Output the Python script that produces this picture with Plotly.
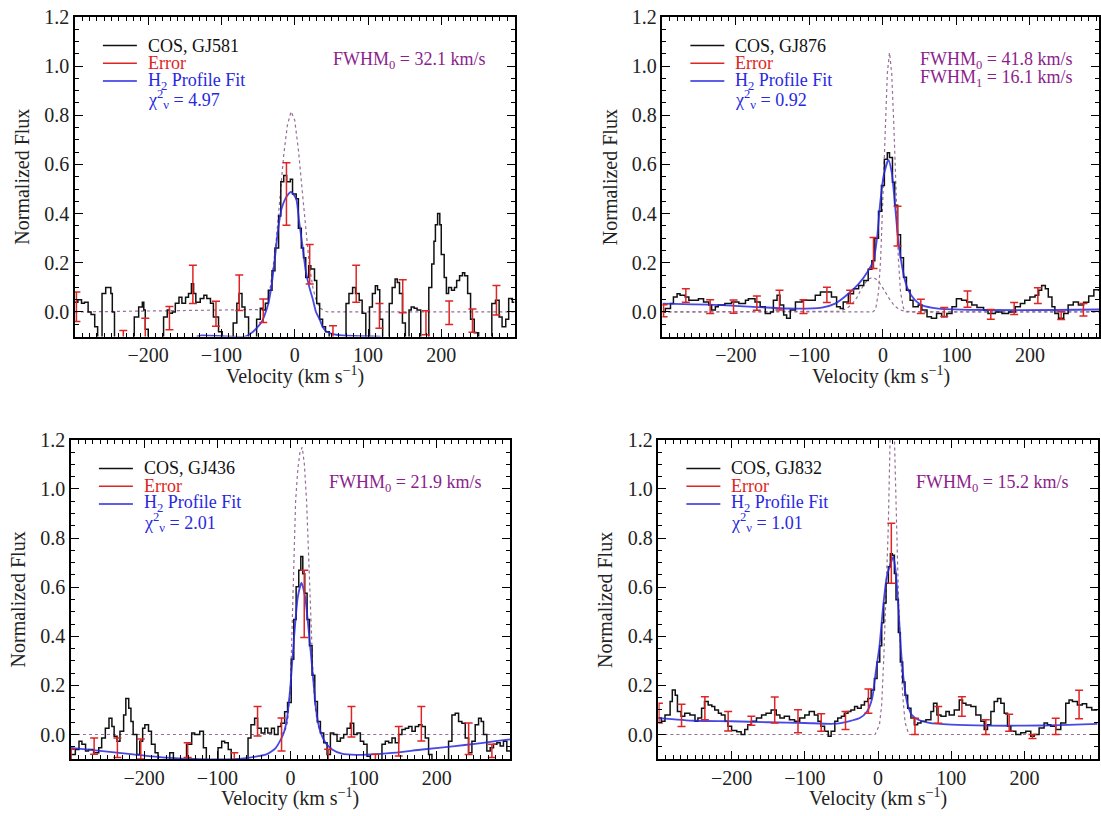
import plotly.graph_objects as go

# ---------------- data ----------------
# GJ581
VEL_GJ581 = [-300, -296, -291, -287, -282, -278, -273, -269, -263, -258, -251, -249, -246, -219, -213, -208, -206, -204, -200,
             -179, -174, -171, -167, -163, -158, -154, -149, -145, -141, -138, -135, -129, -124, -120, -115, -111, -104, -99,
             -84, -79, -76, -72, -68, -63, -52, -47, -44, -40, -36, -31, -27, -22, -19, -15, -11, -6, -3, 2, 5, 9, 12, 15,
             19, 22, 27, 30, 34, 38, 42, 47, 70, 74, 79, 83, 88, 92, 97, 102, 106, 110, 113, 116, 120, 129, 133, 137, 140,
             143, 147, 151, 156, 159, 163, 167, 172, 183, 187, 190, 192, 195, 198, 200, 204, 207, 210, 214, 218, 221, 225,
             229, 232, 236, 240, 245, 251, 269, 274, 279, 283, 288, 292, 297, 300]
FLUX_GJ581 = [0.04, 0.05, 0.035, 0.04, 0.0, -0.01, -0.06, -0.12, 0.075, 0.10, 0.075, 0.0, -0.12, -0.02, 0.02, 0.04, 0.008, -0.07, -0.12,
              -0.02, 0.008, -0.005, 0.0, 0.035, 0.06, 0.035, 0.06, 0.075, 0.115, 0.075, 0.04, 0.055, 0.068, 0.055, 0.035, -0.02, -0.08, -0.12,
              -0.045, 0.035, 0.075, 0.02, -0.02, -0.12, -0.03, 0.015, 0.008, 0.035, 0.088, 0.168, 0.26, 0.39, 0.53, 0.555, 0.53, 0.54, 0.48, 0.46, 0.34, 0.26, 0.22, 0.14,
              0.188, 0.175, 0.128, 0.034, -0.03, -0.06, -0.08, -0.12, 0.034, 0.075, 0.10, 0.075, 0.048, -0.005, -0.12, 0.02, 0.075, 0.107, 0.09, -0.03, -0.12, 0.034, 0.10, 0.134, 0.12,
              0.075, -0.045, -0.12, 0.008, 0.02, 0.015, 0.008, -0.12, 0.10, 0.195, 0.288, 0.355, 0.40, 0.355, 0.234, 0.14, 0.075, 0.10, 0.088, 0.10, 0.128, 0.147,
              0.16, 0.147, 0.075, -0.03, -0.085, -0.12, 0.034, 0.048, -0.02, -0.06, -0.03, 0.055, 0.04, 0.04]
ERRV_GJ581 = [-298, -234, -204, -171, -139, -107.5, -75.7, -43, -11.3, 20.4, 52.2, 83.9, 115.6, 147.4, 179.1, 210.8, 242.6, 275.3]
ERRY_GJ581 = [0.021, -0.11, -0.08, -0.025, 0.112, -0.007, 0.078, 0.005, 0.48, 0.194, -0.1, 0.115, -0.016, 0.064, -0.044, -0.003, -0.035, 0.048]
ERRS_GJ581 = [0.06, 0.035, 0.054, 0.047, 0.078, 0.051, 0.072, 0.048, 0.127, 0.08, 0.044, 0.075, 0.05, 0.067, 0.049, 0.048, 0.047, 0.06]
FITV_GJ581 = [-134, -127, -68, -59, -52, -45, -41, -36, -32, -27, -23, -18, -11, -5, 2, 6, 11, 15, 20, 25, 29, 34, 38, 43, 52, 65, 117]
FITY_GJ581 = [-0.1, -0.095, -0.1, -0.085, -0.066, -0.04, -0.012, 0.034, 0.1, 0.22, 0.33, 0.42, 0.47, 0.488, 0.46, 0.368, 0.26, 0.168, 0.1, 0.048, 0.0, -0.03, -0.06, -0.079, -0.09, -0.095, -0.1]
COMPV_GJ581 = [-300, -45, -40, -35, -30, -25, -20, -15, -10, -5, 0, 5, 10, 15, 20, 25, 30, 35, 40, 45, 300]
COMPY_GJ581 = [0, 0.01, 0.03, 0.07, 0.17, 0.3, 0.47, 0.64, 0.76, 0.815, 0.78, 0.66, 0.5, 0.33, 0.19, 0.095, 0.04, 0.015, 0.005, 0, 0]

# GJ876
VEL_GJ876 = [-300, -296, -289, -285, -280, -276, -269, -264, -258, -251, -244, -237, -233, -228, -224, -215, -206, -196, -187, -183,
             -174, -167, -160, -153, -149, -144, -140, -135, -131, -126, -119, -110, -101, -92, -85, -76, -70, -63, -58, -54,
             -47, -40, -33, -26, -20, -15, -11, -6, -2, 2, 6, 9, 13, 16, 20, 24, 28, 32, 37, 41, 48, 53, 60, 66, 73, 80, 87,
             94, 100, 107, 114, 121, 128, 137, 143, 153, 162, 171, 180, 187, 193, 200, 207, 212, 216, 221, 225, 230, 234, 239,
             246, 252, 259, 266, 273, 280, 287, 294]
FLUX_GJ876 = [0.0, 0.014, 0.034, 0.061, 0.074, 0.068, 0.061, 0.048, 0.048, 0.054, 0.041, 0.028, 0.008, 0.021, 0.028, 0.034, 0.041, 0.034, 0.048, 0.054,
              0.041, 0.021, -0.006, 0.0, 0.048, 0.068, 0.028, -0.012, -0.026, 0.008, 0.041, 0.048, 0.048, 0.068, 0.081, 0.081, 0.061, 0.021, 0.014, 0.041,
              0.074, 0.094, 0.108, 0.128, 0.174, 0.208, 0.30, 0.41, 0.514, 0.621, 0.648, 0.628, 0.528, 0.434, 0.314, 0.221, 0.141, 0.088, 0.048, 0.021, 0.028, 0.008, -0.019, -0.026, -0.006, -0.019, -0.006,
              0.021, 0.054, 0.048, 0.041, 0.028, 0.018, 0.008, -0.006, 0.0, -0.006, 0.0, 0.021, 0.034, 0.048, 0.061, 0.068, 0.088, 0.108, 0.094, 0.061, 0.021, -0.006, -0.026,
              -0.006, 0.028, 0.041, 0.028, 0.04, 0.065, 0.09, 0.085]
ERRV_GJ876 = [-298.4, -268.1, -235.0, -203.2, -171.5, -140.7, -108.0, -76.2, -44.5, -12.8, 19.9, 51.6, 83.4, 115.1, 146.8, 178.6, 210.8, 242.5, 272.8]
ERRY_GJ876 = [0.005, 0.067, 0.022, 0.022, 0.036, 0.048, 0.022, 0.07, 0.061, 0.24, 0.349, 0.023, 0.0, 0.052, -0.01, 0.014, 0.066, -0.015, 0.009]
ERRS_GJ876 = [0.024, 0.027, 0.028, 0.027, 0.029, 0.04, 0.028, 0.031, 0.027, 0.063, 0.081, 0.029, 0.018, 0.033, 0.02, 0.024, 0.032, 0.016, 0.025]
FITV_GJ876 = [-300, -219, -128, -83, -65, -47, -33, -20, -13, -8, -4, 1, 7.5, 12, 16.5, 21, 25.6, 30, 34.7, 43.7, 52.8, 75.5, 143.5, 234.3, 294]
FITY_GJ876 = [0.034, 0.028, 0.014, 0.018, 0.034, 0.074, 0.114, 0.168, 0.208, 0.3, 0.434, 0.554, 0.618, 0.568, 0.434, 0.288, 0.194, 0.128, 0.088, 0.048, 0.028, 0.014, 0.008, 0.008, 0.01]
COMP0V_GJ876 = [-300, -70, -60, -50, -45, -40, -35, -30, -25, -20, -15, -10, -5, 0, 5, 10, 15, 20, 25, 30, 40, 294]
COMP0Y_GJ876 = [0, 0, 0.003, 0.013, 0.024, 0.04, 0.06, 0.09, 0.115, 0.133, 0.14, 0.135, 0.12, 0.097, 0.072, 0.048, 0.028, 0.015, 0.007, 0.003, 0, 0]
COMP1V_GJ876 = [-300, -14, -10, -6, -3, 0, 3, 6, 9, 12, 15, 18, 21, 24, 28, 32, 294]
COMP1Y_GJ876 = [0, 0, 0.01, 0.08, 0.22, 0.45, 0.75, 0.97, 1.055, 0.97, 0.75, 0.45, 0.22, 0.08, 0.015, 0, 0]

# GJ436
VEL_GJ436 = [-300, -294, -289, -285, -280, -276, -269, -262, -258, -253, -248, -244, -241, -237, -233, -228, -225, -221, -218, -215,
             -210, -206, -202, -199, -194, -190, -185, -181, -165, -160, -142, -135, -131, -124, -119, -115, -99, -94, -90, -85,
             -81, -58, -54, -49, -45, -40, -35, -31, -26, -22, -17, -13, -8, -4, 1, 4.5, 7.7, 11.3, 14.1, 16.8, 19.5, 22.7,
             25.9, 29.5, 33.2, 36.8, 40.9, 45.4, 50, 54.5, 59.1, 63.6, 68.2, 72.7, 77.3, 81.8, 86.4, 90.9, 95.5, 100, 104.6,
             109.1, 125, 129.6, 134.1, 138.7, 143.2, 147.8, 152.3, 156.9, 161.4, 166, 170.5, 175.1, 179.6, 184.2, 188.7, 193.3,
             216, 220.6, 225.1, 229.7, 234.2, 238.8, 243.3, 247.9, 252.4, 257, 260.6, 263.8, 268.3, 272.9, 277.4, 282, 286.5,
             291, 295.6, 300]
FLUX_GJ436 = [-0.081, -0.061, -0.027, -0.04, -0.067, -0.061, -0.074, -0.054, -0.014, 0.026, 0.066, 0.033, -0.007, -0.027, 0.013, 0.08, 0.147, 0.107, 0.053, 0.0,
              -0.081, -0.027, 0.026, 0.04, 0.013, -0.04, -0.074, -0.12, -0.074, -0.12, -0.04, 0.006, 0.0, 0.013, -0.054, -0.12, -0.054, -0.027, -0.034, -0.061,
              -0.12, -0.014, 0.04, 0.066, 0.026, 0.006, 0.026, 0.006, 0.026, 0.0, 0.033, 0.046, 0.093, 0.13, 0.307, 0.468, 0.602, 0.669, 0.725, 0.655, 0.575, 0.468,
              0.361, 0.241, 0.134, 0.053, 0.006, -0.034, -0.081, 0.006, 0.0, -0.027, -0.014, 0.0, 0.026, 0.046, 0.0, 0.006, -0.027, -0.04, -0.088,
              -0.12, -0.04, -0.027, -0.034, -0.014, -0.034, 0.0, 0.02, 0.026, 0.033, 0.013, 0.033, 0.04, 0.033, -0.014, -0.081, -0.12,
              -0.027, 0.08, 0.087, 0.053, 0.046, -0.014, -0.074, -0.027, 0.04, 0.066, 0.053, 0.0, -0.067, -0.054, -0.04, -0.034, -0.047,
              -0.027, -0.067, -0.067]
ERRV_GJ436 = [-299.7, -268.3, -236.5, -204.6, -140.5, -76.8, -45.0, -12.2, 18.8, 51.5, 83.3, 116.0, 147.9, 178.8, 243.4, 275.2]
ERRY_GJ436 = [-0.1, -0.047, -0.054, -0.059, -0.064, -0.1, 0.054, 0.0, 0.532, -0.1, 0.052, -0.1, -0.027, 0.044, -0.017, -0.067]
ERRS_GJ436 = [0.04, 0.033, 0.04, 0.041, 0.03, 0.026, 0.06, 0.067, 0.137, 0.04, 0.062, 0.02, 0.06, 0.07, 0.064, 0.027]
FITV_GJ436 = [-300, -260, -215, -169, -124, -78, -56, -33, -20, -10, -5, 0, 5, 10, 15, 20, 25, 30, 35, 40, 48, 57, 70, 90, 110, 135, 180, 225, 252, 280, 300]
FITY_GJ436 = [-0.054, -0.067, -0.081, -0.094, -0.1, -0.1, -0.094, -0.081, -0.054, 0.0, 0.06, 0.2, 0.4, 0.56, 0.618, 0.56, 0.42, 0.26, 0.1, 0.02, -0.034, -0.061, -0.078, -0.083, -0.081, -0.076, -0.061, -0.047, -0.038, -0.027, -0.02]
COMPV_GJ436 = [-300, -15, -8, -4, 0, 2, 4, 7, 10, 13, 16, 19, 22, 25, 27, 30, 33, 37, 42, 48, 300]
COMPY_GJ436 = [0, 0, 0.01, 0.05, 0.2, 0.45, 0.7, 0.95, 1.08, 1.15, 1.17, 1.1, 0.95, 0.75, 0.55, 0.3, 0.13, 0.04, 0.005, 0, 0]

# GJ832
VEL_GJ832 = [-300, -296, -291, -284, -281, -277, -274, -269, -264, -257, -250, -246, -241, -237, -232, -227, -223, -218, -214, -209,
             -205, -200, -193, -187, -182, -178, -173, -166, -159, -153, -146, -139, -134, -128, -121, -114, -107, -100, -94, -87,
             -82, -78, -73, -68, -64, -59, -55, -50, -46, -41, -37, -32, -28, -23, -18.5, -14, -9.4, -4.9, -1.3, 2.4, 5.1, 7.8,
             11, 14.2, 16.9, 19.6, 22.4, 24.6, 27.8, 30.5, 33.7, 36.9, 40.5, 45, 49.6, 54.1, 58.7, 65.5, 72.3, 75.9, 80.5, 86,
             92.8, 97.3, 104.2, 111, 115.5, 120.1, 126.9, 133.7, 140.5, 145.1, 149.6, 154.2, 158.7, 163.3, 167.8, 172.4, 176.9,
             181.5, 188.3, 195.1, 201.9, 208.7, 213.3, 220.1, 226.9, 231.5, 236, 242.8, 249.7, 256.5, 261, 265.6, 272.4, 279,
             285, 292, 300]
FLUX_GJ832 = [0.067, 0.054, 0.08, 0.134, 0.181, 0.16, 0.094, 0.074, 0.087, 0.08, 0.054, 0.067, 0.107, 0.134, 0.12, 0.114, 0.1, 0.087, 0.08, 0.054,
              0.034, 0.016, 0.011, 0.0, 0.02, 0.04, 0.054, 0.067, 0.08, 0.087, 0.1, 0.08, 0.067, 0.074, 0.06, 0.054, 0.067, 0.08, 0.094, 0.08,
              0.054, 0.034, 0.013, -0.007, 0.013, 0.054, 0.067, 0.074, 0.087, 0.094, 0.1, 0.114, 0.107, 0.12, 0.134, 0.147, 0.181, 0.228, 0.295, 0.361, 0.455, 0.536,
              0.616, 0.683, 0.736, 0.73, 0.656, 0.549, 0.415, 0.295, 0.214, 0.16, 0.107, 0.067, 0.04, 0.047, 0.054, 0.06, 0.094, 0.127, 0.08, 0.074,
              0.094, 0.08, 0.1, 0.141, 0.127, 0.12, 0.114, 0.08, 0.054, 0.02, 0.04, 0.094, 0.134, 0.147, 0.127, 0.087, 0.034,
              0.013, 0.0, 0.007, 0.013, -0.007, 0.0, 0.027, 0.047, 0.04, 0.034, 0.02, 0.047, 0.127, 0.141, 0.134, 0.12, 0.125,
              0.11, 0.1, 0.1]
ERRV_GJ832 = [-299.3, -268.4, -236.5, -204.7, -173, -141.1, -109.3, -77.6, -44.4, -13.1, 18.2, 50.5, 82.3, 114.6, 147.3, 179.2, 211.0, 242.8, 274.7]
ERRY_GJ832 = [0.087, 0.078, 0.107, 0.054, 0.056, 0.1, 0.054, 0.049, 0.057, 0.136, 0.738, 0.033, 0.08, 0.114, 0.03, 0.048, -0.008, 0.033, 0.122]
ERRS_GJ832 = [0.04, 0.045, 0.047, 0.04, 0.018, 0.053, 0.047, 0.036, 0.037, 0.049, 0.122, 0.033, 0.034, 0.04, 0.03, 0.035, 0.008, 0.033, 0.058]
FITV_GJ832 = [-300, -250, -200, -150, -100, -60, -40, -25, -15, -8, -3, 2, 7, 12, 18, 21, 24, 28, 32, 36, 40, 46, 55, 70, 100, 150, 200, 250, 300]
FITY_GJ832 = [0.067, 0.056, 0.054, 0.05, 0.047, 0.044, 0.054, 0.067, 0.094, 0.147, 0.255, 0.36, 0.52, 0.643, 0.703, 0.723, 0.67, 0.51, 0.32, 0.2, 0.127, 0.08, 0.06, 0.047, 0.04, 0.036, 0.036, 0.038, 0.043]
COMPV_GJ832 = [-300, -4, 2, 5, 8, 11, 14, 16.5, 19.5, 22.5, 25, 28, 31, 34, 37, 42, 300]
COMPY_GJ832 = [0, 0, 0.04, 0.12, 0.32, 0.58, 0.84, 1.2, 1.35, 1.2, 0.84, 0.55, 0.32, 0.15, 0.05, 0.0, 0]

STARS = ["GJ581", "GJ876", "GJ436", "GJ832"]
CHI2 = ["4.97", "0.92", "2.01", "1.01"]
FWHM_TEXT = [["FWHM<sub>0</sub> = 32.1 km/s"],
             ["FWHM<sub>0</sub> = 41.8 km/s", "FWHM<sub>1</sub> = 16.1 km/s"],
             ["FWHM<sub>0</sub> = 21.9 km/s"],
             ["FWHM<sub>0</sub> = 15.2 km/s"]]
X_TICKS = [-200, -100, 0, 100, 200]
Y_TICKS = [0.0, 0.2, 0.4, 0.6, 0.8, 1.0, 1.2]

# ---------------- styling / layout ----------------
W, H = 1101, 816
SERIF = "Liberation Serif"
BLACK = "#111111"
RED = "rgb(222,36,36)"
BLUE = "rgb(40,40,225)"
PURPLE = "rgb(140,30,140)"
DOT = "rgb(150,110,150)"


def px(x):
    return x / W


def py(y):
    return 1 - y / H


panels = [
    dict(L=75, R=515, T=6, B=330, xr=[-300, 300],
         vel=VEL_GJ581, flux=FLUX_GJ581, ev=ERRV_GJ581, ey=ERRY_GJ581, es=ERRS_GJ581,
         fv=FITV_GJ581, fy=FITY_GJ581, comps=[(COMPV_GJ581, COMPY_GJ581)]),
    dict(L=663, R=1100, T=6, B=330, xr=[-300, 294],
         vel=VEL_GJ876, flux=FLUX_GJ876, ev=ERRV_GJ876, ey=ERRY_GJ876, es=ERRS_GJ876,
         fv=FITV_GJ876, fy=FITY_GJ876, comps=[(COMP0V_GJ876, COMP0Y_GJ876), (COMP1V_GJ876, COMP1Y_GJ876)]),
    dict(L=71, R=510.5, T=434.7, B=758.3, xr=[-300, 300],
         vel=VEL_GJ436, flux=FLUX_GJ436, ev=ERRV_GJ436, ey=ERRY_GJ436, es=ERRS_GJ436,
         fv=FITV_GJ436, fy=FITY_GJ436, comps=[(COMPV_GJ436, COMPY_GJ436)]),
    dict(L=659, R=1098.6, T=434.7, B=758.3, xr=[-300, 300],
         vel=VEL_GJ832, flux=FLUX_GJ832, ev=ERRV_GJ832, ey=ERRY_GJ832, es=ERRS_GJ832,
         fv=FITV_GJ832, fy=FITY_GJ832, comps=[(COMPV_GJ832, COMPY_GJ832)]),
]

fig = go.Figure()
layout = dict(width=W, height=H, margin=dict(l=0, r=0, t=0, b=0),
              paper_bgcolor="white", plot_bgcolor="white", showlegend=False,
              font=dict(family=SERIF, size=20, color="#222222"))
annotations = []
shapes = []

for i, p in enumerate(panels):
    n = "" if i == 0 else str(i + 1)
    xa, ya = "x" + n, "y" + n
    for cv, cy in p["comps"]:
        fig.add_trace(go.Scatter(x=cv, y=cy, mode="lines", xaxis=xa, yaxis=ya,
                                 line=dict(color=DOT, width=1.2, dash="dot"), hoverinfo="skip"))
    fig.add_trace(go.Scatter(x=p["vel"], y=p["flux"], mode="lines", xaxis=xa, yaxis=ya,
                             line=dict(color=BLACK, width=1.5, shape="hv"), hoverinfo="skip"))
    fig.add_trace(go.Scatter(x=p["fv"], y=p["fy"], mode="lines", xaxis=xa, yaxis=ya,
                             line=dict(color=BLUE, width=1.8, shape="spline", smoothing=0.6), opacity=0.85,
                             hoverinfo="skip"))
    fig.add_trace(go.Scatter(x=p["ev"], y=p["ey"], mode="markers", xaxis=xa, yaxis=ya,
                             marker=dict(size=1, color="rgba(0,0,0,0)"),
                             error_y=dict(type="data", array=p["es"], symmetric=True, color=RED,
                                          thickness=1.5, width=4), hoverinfo="skip"))

    axis_common = dict(showline=True, linecolor="black", linewidth=1.5, mirror="allticks",
                       ticks="inside", tickcolor="black", tickwidth=1.2,
                       showgrid=False, zeroline=False,
                       tickfont=dict(family=SERIF, size=20, color="#222222"))
    layout["xaxis" + n] = dict(axis_common, domain=[px(p["L"]), px(p["R"])], range=p["xr"],
                               anchor=ya, tickmode="array", tickvals=X_TICKS, ticklen=8,
                               minor=dict(ticks="inside", tickmode="linear", tick0=0, dtick=10,
                                          ticklen=4, tickcolor="black", tickwidth=1))
    layout["yaxis" + n] = dict(axis_common, domain=[py(p["B"]), py(p["T"])], range=[-0.1, 1.2],
                               anchor=xa, tickmode="array", tickvals=Y_TICKS,
                               ticktext=["%.1f" % v for v in Y_TICKS], ticklen=8,
                               minor=dict(ticks="inside", tickmode="linear", tick0=0, dtick=0.05,
                                          ticklen=4, tickcolor="black", tickwidth=1))

    L, R, T, B = p["L"], p["R"], p["T"], p["B"]
    # axis titles
    annotations.append(dict(x=px(L - 53), y=py((T + B) / 2), xref="paper", yref="paper",
                            text="Normalized Flux", textangle=-90, showarrow=False,
                            xanchor="center", yanchor="middle",
                            font=dict(family=SERIF, size=20, color="#222222")))
    annotations.append(dict(x=px((L + R) / 2), y=py(B + 39), xref="paper", yref="paper",
                            text="Velocity (km s<sup>\u22121</sup>)", showarrow=False,
                            xanchor="center", yanchor="middle",
                            font=dict(family=SERIF, size=20, color="#222222")))
    # legend
    leg = [("COS, " + STARS[i], BLACK, T + 29), ("Error", RED, T + 47),
           ("H<sub>2</sub> Profile Fit", BLUE, T + 65)]
    for txt, col, yy in leg:
        shapes.append(dict(type="line", xref="paper", yref="paper",
                           x0=px(L + 28), x1=px(L + 62), y0=py(yy), y1=py(yy),
                           line=dict(color=col, width=1.5)))
        annotations.append(dict(x=px(L + 71), y=py(yy), xref="paper", yref="paper",
                                text=txt, showarrow=False, xanchor="left", yanchor="middle",
                                font=dict(family=SERIF, size=18, color=col)))
    annotations.append(dict(x=px(L + 71), y=py(T + 84), xref="paper", yref="paper",
                            text="\u03c7<sup>2</sup><sub>\u03bd</sub> = " + CHI2[i], showarrow=False,
                            xanchor="left", yanchor="middle",
                            font=dict(family=SERIF, size=18, color=BLUE)))
    for k, ft in enumerate(FWHM_TEXT[i]):
        annotations.append(dict(x=px(L + 256), y=py(T + 44 + 18 * k), xref="paper", yref="paper",
                                text=ft, showarrow=False, xanchor="left", yanchor="middle",
                                font=dict(family=SERIF, size=18, color=PURPLE)))

layout["annotations"] = annotations
layout["shapes"] = shapes
fig.update_layout(**layout)
fig.write_html("out.html")
